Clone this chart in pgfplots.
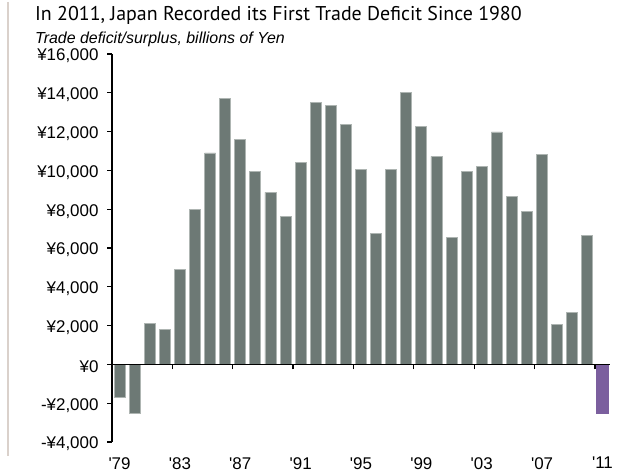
\documentclass[border=0pt]{standalone}
\usepackage{fontspec}
\setmainfont{Liberation Sans}[Ligatures=TeXOff]
\newfontfamily\titlefont{PT Sans}
\usepackage{pgfplots}
\pgfplotsset{compat=1.18}
\definecolor{barg}{HTML}{6D7975}
\definecolor{baredge}{HTML}{AEB5B2}
\definecolor{barp}{HTML}{7B5F9E}
\definecolor{leftline}{HTML}{DAD1CB}
\pgfplotstableread{
x y
0 -1700
1 -2550
2 2090
3 1810
4 4900
5 8000
6 10900
7 13730
8 11590
9 9930
10 8870
11 7620
12 10430
13 13520
14 13330
15 12360
16 10050
17 6750
18 10030
19 14020
20 12260
21 10720
22 6550
23 9930
24 10220
25 11980
26 8680
27 7900
28 10800
29 2050
30 2700
31 6630
}\surplus
\pgfplotstableread{
x y
32 -2550
}\deficit
\pgfplotsset{
  common/.style={
    at={(112bp,-442bp)}, anchor=south west, scale only axis,
    width=498bp, height=388bp,
    xmin=-0.5, xmax=32.5, ymin=-4000, ymax=16000,
    scaled ticks=false,
  }
}
\begin{document}
\begin{tikzpicture}[x=1bp,y=1bp]
\useasboundingbox (0,0) rectangle (629,-472);
\draw[leftline, line width=1.2bp] (8,-2) -- (8,-456);
\node[anchor=base west, inner sep=0] at (35,-21) {\titlefont\fontsize{20}{24}\selectfont In 2011, Japan Recorded its First Trade Deficit Since 1980};
\node[anchor=base west, inner sep=0] at (35,-44) {\fontsize{16}{19}\selectfont\itshape Trade deficit/surplus, billions of Yen};
\begin{axis}[
  common,
  axis y line=left, axis x line=bottom,
  x axis line style={draw=none},
  y axis line style={-, line width=1.2bp},
  ytick={-4000,-2000,...,16000},
  yticklabels={{-¥4,000},{-¥2,000},{¥0},{¥2,000},{¥4,000},{¥6,000},{¥8,000},{¥10,000},{¥12,000},{¥14,000},{¥16,000}},
  xtick={0,4,...,32},
  xticklabels={'79,'83,'87,'91,'95,'99,'03,'07,'11},
  tick align=outside,
  major tick length=5bp,
  ytick style={black, line width=1.2bp},
  xtick style={draw=none},
  yticklabel style={font=\fontsize{17}{20}\selectfont, xshift=-5bp, yshift=-2bp},
  xticklabel style={font=\fontsize{17}{20}\selectfont, anchor=north, inner sep=0pt, yshift=-10bp},
]
\addplot[ybar, bar width=11bp, bar shift=0pt, fill=barg, draw=baredge, line width=0.8bp] table[x=x,y=y] {\surplus};
\addplot[ybar, bar width=13.5bp, bar shift=0pt, fill=barp, draw=none] table[x=x,y=y] {\deficit};
\end{axis}
\begin{axis}[
  common,
  axis y line=none, axis x line=middle,
  x axis line style={-, line width=1.5bp},
  xtick={3.5,7.5,...,31.5},
  xticklabels={},
  ytick=\empty,
  tick align=outside,
  major tick length=5bp,
  xtick style={black, line width=1.2bp},
]
\end{axis}
\end{tikzpicture}
\end{document}
